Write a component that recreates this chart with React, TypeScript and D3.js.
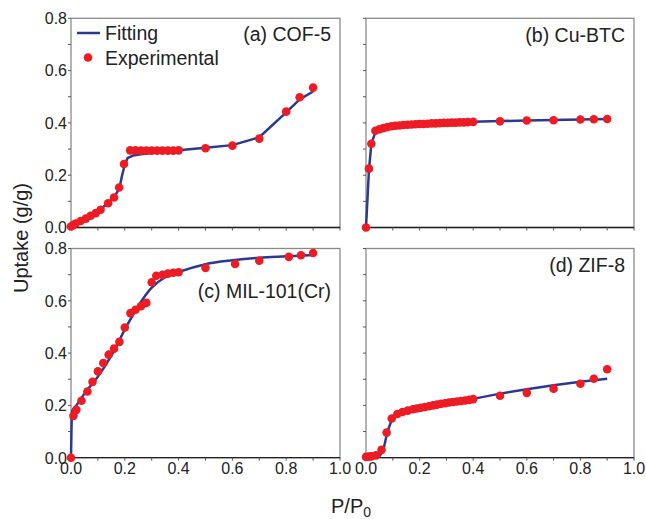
import React from "react";
import * as d3 from "d3";

// (a) COF-5
const cofExpX = [0, 0.008, 0.017, 0.036, 0.055, 0.073, 0.092, 0.11, 0.138, 0.16, 0.179, 0.197, 0.22, 0.24, 0.26, 0.28, 0.3, 0.32, 0.34, 0.36, 0.38, 0.4, 0.5, 0.6, 0.7, 0.8, 0.85, 0.9];
const cofExpY = [0.004, 0.009, 0.015, 0.025, 0.034, 0.045, 0.055, 0.068, 0.093, 0.115, 0.153, 0.243, 0.295, 0.295, 0.294, 0.294, 0.294, 0.294, 0.294, 0.294, 0.294, 0.295, 0.303, 0.313, 0.34, 0.443, 0.498, 0.535];
const cofFitX = [0, 0.05, 0.1, 0.14, 0.16, 0.18, 0.19, 0.2, 0.21, 0.23, 0.26, 0.3, 0.4, 0.5, 0.6, 0.7, 0.8, 0.85, 0.9];
const cofFitY = [0, 0.03, 0.063, 0.095, 0.115, 0.15, 0.2, 0.24, 0.265, 0.275, 0.28, 0.285, 0.295, 0.305, 0.315, 0.345, 0.44, 0.49, 0.52];

// (b) Cu-BTC
const cuExpX = [0, 0.011, 0.02, 0.035, 0.05, 0.065, 0.08, 0.095, 0.11, 0.125, 0.14, 0.155, 0.17, 0.185, 0.2, 0.215, 0.23, 0.245, 0.26, 0.275, 0.29, 0.305, 0.32, 0.335, 0.35, 0.365, 0.38, 0.4, 0.5, 0.6, 0.7, 0.8, 0.85, 0.9];
const cuExpY = [0, 0.225, 0.32, 0.37, 0.376, 0.38, 0.384, 0.387, 0.389, 0.39, 0.392, 0.393, 0.394, 0.395, 0.396, 0.396, 0.397, 0.398, 0.398, 0.399, 0.4, 0.4, 0.401, 0.401, 0.402, 0.402, 0.403, 0.404, 0.406, 0.409, 0.41, 0.413, 0.414, 0.415];
const cuFitX = [0, 0.011, 0.02, 0.035, 0.05, 0.1, 0.2, 0.3, 0.4, 0.5, 0.6, 0.7, 0.8, 0.9];
const cuFitY = [0, 0.22, 0.32, 0.365, 0.375, 0.388, 0.396, 0.4, 0.404, 0.407, 0.409, 0.411, 0.413, 0.415];

// (c) MIL-101(Cr)
const milExpX = [0, 0.009, 0.02, 0.039, 0.061, 0.08, 0.1, 0.12, 0.14, 0.16, 0.18, 0.2, 0.221, 0.24, 0.26, 0.28, 0.3, 0.317, 0.34, 0.36, 0.38, 0.4, 0.5, 0.61, 0.7, 0.81, 0.855, 0.9];
const milExpY = [0, 0.16, 0.183, 0.218, 0.253, 0.29, 0.33, 0.362, 0.394, 0.417, 0.443, 0.498, 0.553, 0.566, 0.579, 0.592, 0.671, 0.696, 0.699, 0.704, 0.707, 0.709, 0.726, 0.741, 0.753, 0.768, 0.774, 0.783];
const milFitX = [0, 0.002, 0.005, 0.02, 0.05, 0.1, 0.15, 0.2, 0.25, 0.3, 0.35, 0.4, 0.5, 0.6, 0.7, 0.8, 0.9];
const milFitY = [0, 0.12, 0.18, 0.2, 0.245, 0.31, 0.39, 0.49, 0.58, 0.65, 0.69, 0.71, 0.74, 0.755, 0.765, 0.77, 0.775];

// (d) ZIF-8
const zifExpX = [0, 0.01, 0.02, 0.037, 0.058, 0.077, 0.096, 0.117, 0.136, 0.156, 0.175, 0.19, 0.205, 0.22, 0.235, 0.25, 0.265, 0.28, 0.295, 0.31, 0.325, 0.34, 0.355, 0.37, 0.385, 0.4, 0.5, 0.6, 0.7, 0.8, 0.85, 0.9];
const zifExpY = [0.003, 0.004, 0.005, 0.009, 0.03, 0.096, 0.15, 0.167, 0.175, 0.18, 0.185, 0.188, 0.191, 0.194, 0.197, 0.2, 0.203, 0.206, 0.208, 0.211, 0.213, 0.215, 0.217, 0.219, 0.221, 0.224, 0.237, 0.248, 0.264, 0.283, 0.302, 0.338];
const zifFitX = [0, 0.05, 0.065, 0.08, 0.1, 0.12, 0.2, 0.3, 0.4, 0.5, 0.6, 0.7, 0.8, 0.9];
const zifFitY = [0, 0.005, 0.03, 0.1, 0.155, 0.168, 0.19, 0.21, 0.225, 0.245, 0.262, 0.277, 0.29, 0.302];

const panelLabels = ["(a) COF-5", "(b) Cu-BTC", "(c) MIL-101(Cr)", "(d) ZIF-8"];
const xTickLabels = ["0.0", "0.2", "0.4", "0.6", "0.8", "1.0"];
const yTickLabels = ["0.0", "0.2", "0.4", "0.6", "0.8"];
const legendLabels = ["Fitting", "Experimental"];

const RED = "#ed1c24";
const BLUE = "#2b3990";
const FONT = "'Liberation Sans', Arial, sans-serif";

type Panel = {
  left: number; right: number; top: number; bottom: number;
  ex: number[]; ey: number[]; fx: number[]; fy: number[];
  label: string; labelY: number; showX: boolean; showY: boolean; smooth: boolean;
};

const panels: Panel[] = [
  { left: 71, right: 340, top: 18.3, bottom: 227.5, ex: cofExpX, ey: cofExpY, fx: cofFitX, fy: cofFitY, label: panelLabels[0], labelY: 41, showX: false, showY: true, smooth: false },
  { left: 366, right: 634, top: 18.3, bottom: 227.5, ex: cuExpX, ey: cuExpY, fx: cuFitX, fy: cuFitY, label: panelLabels[1], labelY: 42, showX: false, showY: false, smooth: false },
  { left: 71, right: 340, top: 248.5, bottom: 457.7, ex: milExpX, ey: milExpY, fx: milFitX, fy: milFitY, label: panelLabels[2], labelY: 298, showX: true, showY: true, smooth: true },
  { left: 366, right: 634, top: 248.5, bottom: 457.7, ex: zifExpX, ey: zifExpY, fx: zifFitX, fy: zifFitY, label: panelLabels[3], labelY: 272, showX: true, showY: false, smooth: false },
];

function PanelView({ p }: { p: Panel }) {
  const x = d3.scaleLinear().domain([0, 1]).range([p.left, p.right]);
  const y = d3.scaleLinear().domain([0, 0.8]).range([p.bottom, p.top]);
  const fit = d3.line<number>()
    .x((d) => x(d))
    .y((_, i) => y(p.fy[i]))
    .curve(p.smooth ? d3.curveMonotoneX : d3.curveLinear);
  const xt = d3.range(0, 11).map((i) => i / 10);
  const yt = d3.range(0, 9).map((i) => i / 10);
  return (
    <g>
      <rect x={p.left} y={p.top} width={p.right - p.left} height={p.bottom - p.top} fill="none" stroke="#8a8a8a" strokeWidth={1.3} />
      <line x1={p.left} x2={p.right} y1={p.bottom} y2={p.bottom} stroke="#222" strokeWidth={1.3} />
      {xt.map((t) => (
        <line key={"xt" + t} x1={x(t)} x2={x(t)} y1={p.bottom} y2={p.bottom + 3} stroke="#555" strokeWidth={1} />
      ))}
      {yt.map((t) => (
        <line key={"yt" + t} x1={p.left - 3} x2={p.left} y1={y(t)} y2={y(t)} stroke="#555" strokeWidth={1} />
      ))}
      {p.showX && xTickLabels.map((s) => (
        <text key={"xl" + s} x={x(+s)} y={p.bottom + 16.5} textAnchor="middle" fontSize={16} fill="#222" fontFamily={FONT}>{s}</text>
      ))}
      {p.showY && yTickLabels.map((s) => (
        <text key={"yl" + s} x={p.left - 4} y={y(+s) + 5.8} textAnchor="end" fontSize={16} fill="#222" fontFamily={FONT}>{s}</text>
      ))}
      <path d={fit(p.fx) || ""} fill="none" stroke={BLUE} strokeWidth={2.5} strokeLinejoin="round" />
      {p.ex.map((v, i) => (
        <circle key={"pt" + i} cx={x(v)} cy={y(p.ey[i])} r={4.3} fill={RED} />
      ))}
      <text x={p.right - 9} y={p.labelY} textAnchor="end" fontSize={19.5} fill="#222" fontFamily={FONT}>{p.label}</text>
    </g>
  );
}

export default function App() {
  return (
    <svg width={646} height={519} style={{ position: "absolute", left: 0, top: 0, background: "#fff" }}>
      {panels.map((p, i) => <PanelView key={i} p={p} />)}
      <line x1={77} x2={100} y1={33} y2={33} stroke={BLUE} strokeWidth={2.5} />
      <text x={105} y={40} fontSize={19.5} fill="#222" fontFamily={FONT}>{legendLabels[0]}</text>
      <circle cx={88} cy={57.5} r={4.3} fill={RED} />
      <text x={105} y={65} fontSize={19.5} fill="#222" fontFamily={FONT}>{legendLabels[1]}</text>
      <text transform="translate(28,238) rotate(-90)" textAnchor="middle" fontSize={20} fill="#222" fontFamily={FONT}>Uptake (g/g)</text>
      <text x={331} y={513} fontSize={20} fill="#222" fontFamily={FONT}>
        P/P<tspan fontSize={14} dy={4}>0</tspan>
      </text>
    </svg>
  );
}
